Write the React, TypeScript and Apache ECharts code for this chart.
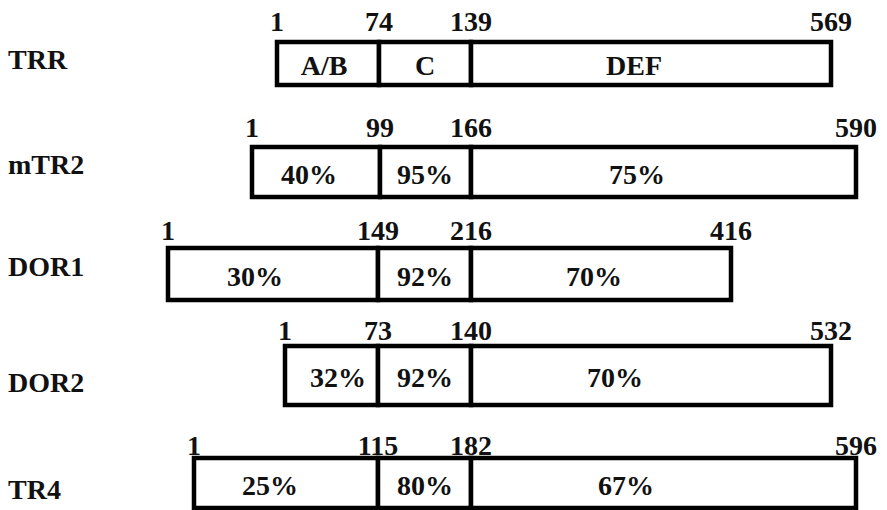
import React, { useEffect, useRef } from 'react';
import * as echarts from 'echarts';

// ---- data ----
const proteins = ['TRR', 'mTR2', 'DOR1', 'DOR2', 'TR4'];
const residueLabels = [
  ['1', '74', '139', '569'],
  ['1', '99', '166', '590'],
  ['1', '149', '216', '416'],
  ['1', '73', '140', '532'],
  ['1', '115', '182', '596'],
];
const domainLabels = [
  ['A/B', 'C', 'DEF'],
  ['40%', '95%', '75%'],
  ['30%', '92%', '70%'],
  ['32%', '92%', '70%'],
  ['25%', '80%', '67%'],
];
// schematic (not-to-scale) domain boundaries, in diagram units
const boundaries = [
  [277, 379, 471, 831],
  [252, 380, 471, 856],
  [168, 378, 471, 731],
  [285, 378, 471, 831],
  [194, 378, 471, 856],
];

// ---- layout ----
const rowCenters = [63.5, 172, 274, 375.5, 483];
const boxHeights = [43, 50, 52, 59, 50];
const numberGaps = [21, 20, 18, 16, 13];
const nameOffsets = [-4, -8, -8, 7, 6];
const labelCenters = [
  [324, 425, 634],
  [309, 425, 637],
  [255, 425, 594],
  [338, 425, 615],
  [270, 425, 626],
];
const TEXT = {
  fontFamily: 'Liberation Serif',
  fontSize: 28,
  fontWeight: 'bold',
  fill: '#111',
};

export default function App() {
  const ref = useRef<HTMLDivElement>(null);
  useEffect(() => {
    document.body.style.margin = '0';
    const chart = echarts.init(ref.current!, null, { renderer: 'svg' });

    const segData: any[] = [];
    boundaries.forEach((b, r) => {
      for (let s = 0; s < 3; s++) {
        segData.push([b[s], b[s + 1], rowCenters[r], r, s]);
      }
    });
    const numData: any[] = [];
    boundaries.forEach((b, r) => {
      b.forEach((x, k) => {
        numData.push([x, rowCenters[r] - boxHeights[r] / 2 - numberGaps[r], r, k]);
      });
    });
    const nameData = proteins.map((p, r) => [8, rowCenters[r] + nameOffsets[r], r]);

    chart.setOption({
      animation: false,
      backgroundColor: '#fff',
      grid: { left: 0, right: 0, top: 0, bottom: 0 },
      xAxis: { type: 'value', min: 0, max: 887, show: false },
      yAxis: { type: 'value', min: 0, max: 510, inverse: true, show: false },
      series: [
        {
          type: 'custom',
          data: segData,
          renderItem: (params: any, api: any) => {
            const x0 = api.value(0), x1 = api.value(1), yc = api.value(2);
            const r = api.value(3), s = api.value(4);
            const p0 = api.coord([x0, yc]);
            const p1 = api.coord([x1, yc]);
            const h = boxHeights[r];
            const lc = api.coord([labelCenters[r][s], yc]);
            return {
              type: 'group',
              children: [
                {
                  type: 'rect',
                  shape: { x: p0[0], y: p0[1] - h / 2, width: p1[0] - p0[0], height: h },
                  style: { fill: '#fff', stroke: '#000', lineWidth: 4.5 },
                },
                {
                  type: 'text',
                  style: {
                    ...TEXT,
                    text: domainLabels[r][s],
                    x: lc[0],
                    y: lc[1] + 2,
                    align: 'center',
                    verticalAlign: 'middle',
                  },
                },
              ],
            };
          },
        },
        {
          type: 'custom',
          data: numData,
          renderItem: (params: any, api: any) => {
            const p = api.coord([api.value(0), api.value(1)]);
            const r = api.value(2), k = api.value(3);
            return {
              type: 'text',
              style: {
                ...TEXT,
                text: residueLabels[r][k],
                x: p[0],
                y: p[1],
                align: 'center',
                verticalAlign: 'middle',
              },
            };
          },
        },
        {
          type: 'custom',
          data: nameData,
          renderItem: (params: any, api: any) => {
            const p = api.coord([api.value(0), api.value(1)]);
            const r = api.value(2);
            return {
              type: 'text',
              style: {
                ...TEXT,
                text: proteins[r],
                x: p[0],
                y: p[1],
                align: 'left',
                verticalAlign: 'middle',
              },
            };
          },
        },
      ],
    });
    return () => chart.dispose();
  }, []);
  return <div ref={ref} style={{ width: 887, height: 510 }} />;
}
